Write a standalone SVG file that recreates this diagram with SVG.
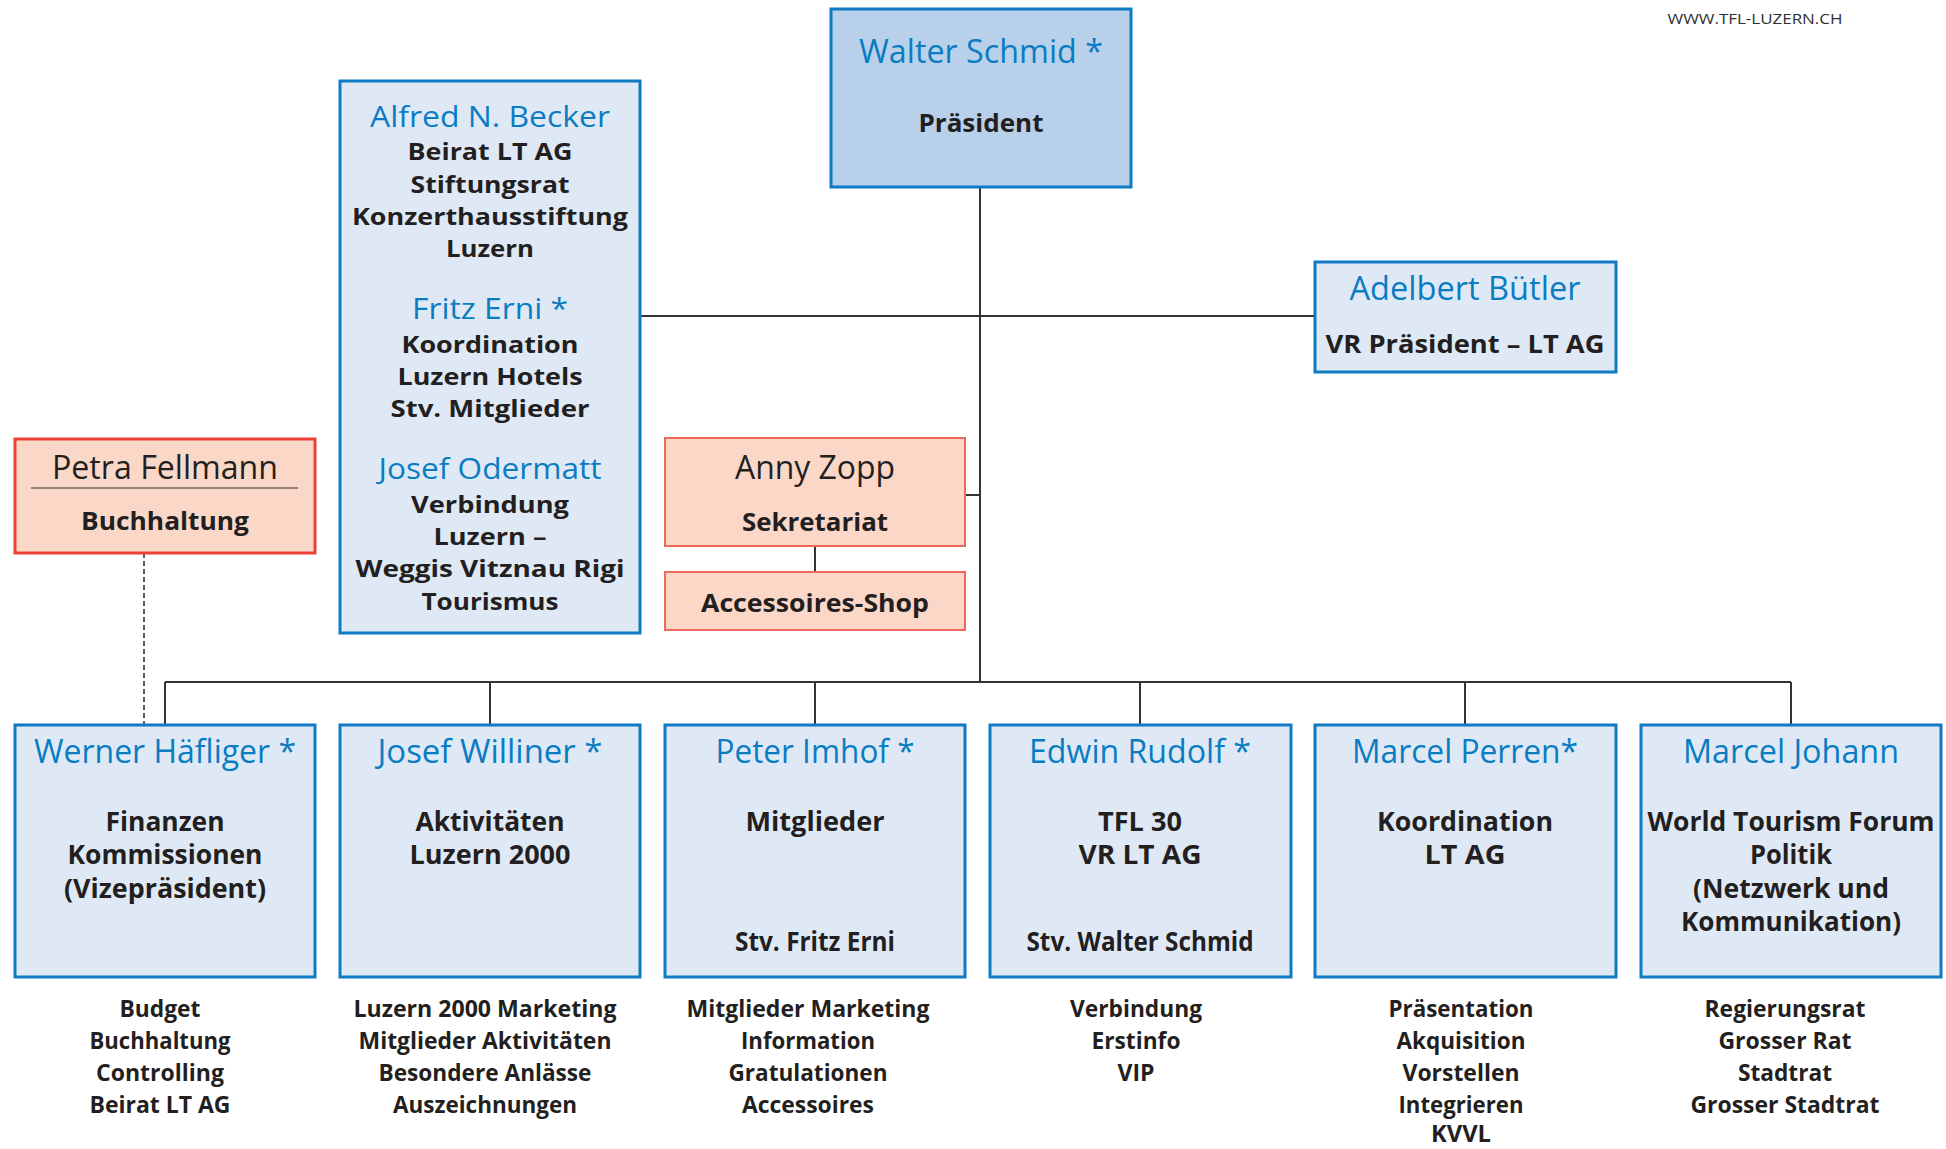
<svg xmlns="http://www.w3.org/2000/svg" width="1946" height="1149" viewBox="0 0 1946 1149">
<style>
.bg{fill:#ffffff}
.bx{fill:#dfe9f6;stroke:#0f7bc4;stroke-width:3}
.bxp{fill:#b9d0ea;stroke:#0f7bc4;stroke-width:3}
.rd{fill:#fbd7c8;stroke:#ee4036;stroke-width:3}
.rd2{fill:#fbd7c8;stroke:#f0675b;stroke-width:2}
.ln{stroke:#333333;stroke-width:2;fill:none}
.dl{stroke:#333333;stroke-width:1.6;stroke-dasharray:5,3;fill:none}
text{text-anchor:middle}
.nm{font-family:"Open Sans","Noto Sans",sans-serif;font-size:32px;font-weight:500;fill:#0a7cc2}
.nms{font-family:"Open Sans","Noto Sans",sans-serif;font-size:30px;font-weight:500;fill:#0a7cc2}
.nmd{font-family:"Open Sans","Noto Sans",sans-serif;font-size:32px;font-weight:500;fill:#231f20}
.b{font-family:"Open Sans","Noto Sans",sans-serif;font-size:25px;font-weight:bold;fill:#231f20}
.bs{font-family:"Open Sans","Noto Sans",sans-serif;font-size:24px;font-weight:bold;fill:#231f20}
.cn{font-family:"Open Sans","Noto Sans",sans-serif;font-size:33px;font-weight:500;fill:#0a7cc2}
.cb{font-family:"Open Sans","Noto Sans",sans-serif;font-size:26px;font-weight:bold;fill:#231f20}
.cl{font-family:"Open Sans","Noto Sans",sans-serif;font-size:23px;font-weight:bold;fill:#231f20}
.url{font-family:"Open Sans","Noto Sans",sans-serif;font-size:14px;font-weight:500;fill:#2e2e2e}
</style>
<rect class="bg" x="0" y="0" width="1946" height="1149"/>
<text class="url" x="1755" y="24" textLength="175" lengthAdjust="spacingAndGlyphs">WWW.TFL-LUZERN.CH</text>

<g id="connectors">
<line class="ln" x1="980" y1="187" x2="980" y2="682"/>
<line class="ln" x1="640" y1="316" x2="1315" y2="316"/>
<line class="ln" x1="965" y1="495" x2="980" y2="495"/>
<line class="ln" x1="815" y1="546" x2="815" y2="572"/>
<line class="ln" x1="165" y1="682" x2="1791" y2="682"/>
<line class="ln" x1="165" y1="682" x2="165" y2="725"/>
<line class="ln" x1="490" y1="682" x2="490" y2="725"/>
<line class="ln" x1="815" y1="682" x2="815" y2="725"/>
<line class="ln" x1="1140" y1="682" x2="1140" y2="725"/>
<line class="ln" x1="1465" y1="682" x2="1465" y2="725"/>
<line class="ln" x1="1791" y1="682" x2="1791" y2="725"/>
<line class="dl" x1="144" y1="553" x2="144" y2="725"/>
</g>

<g id="walter-schmid">
<rect class="bxp" x="831" y="9" width="300" height="178"/>
<text class="nm" x="981" y="63" textLength="244" lengthAdjust="spacingAndGlyphs">Walter Schmid *</text>
<text class="b" x="981" y="132" textLength="125" lengthAdjust="spacingAndGlyphs">Präsident</text>
</g>

<g id="beirat">
<rect class="bx" x="340" y="81" width="300" height="552"/>
<text class="nms" x="490" y="127" textLength="240" lengthAdjust="spacingAndGlyphs">Alfred N. Becker</text>
<text class="bs" x="490" y="160" textLength="165" lengthAdjust="spacingAndGlyphs">Beirat LT AG</text>
<text class="bs" x="490" y="193" textLength="159" lengthAdjust="spacingAndGlyphs">Stiftungsrat</text>
<text class="bs" x="490" y="225" textLength="276" lengthAdjust="spacingAndGlyphs">Konzerthausstiftung</text>
<text class="bs" x="490" y="257" textLength="88" lengthAdjust="spacingAndGlyphs">Luzern</text>
<text class="nms" x="490" y="319" textLength="156" lengthAdjust="spacingAndGlyphs">Fritz Erni *</text>
<text class="bs" x="490" y="353" textLength="177" lengthAdjust="spacingAndGlyphs">Koordination</text>
<text class="bs" x="490" y="385" textLength="185" lengthAdjust="spacingAndGlyphs">Luzern Hotels</text>
<text class="bs" x="490" y="417" textLength="199" lengthAdjust="spacingAndGlyphs">Stv. Mitglieder</text>
<text class="nms" x="490" y="479" textLength="223" lengthAdjust="spacingAndGlyphs">Josef Odermatt</text>
<text class="bs" x="490" y="513" textLength="158" lengthAdjust="spacingAndGlyphs">Verbindung</text>
<text class="bs" x="490" y="545" textLength="113" lengthAdjust="spacingAndGlyphs">Luzern –</text>
<text class="bs" x="490" y="577" textLength="269" lengthAdjust="spacingAndGlyphs">Weggis Vitznau Rigi</text>
<text class="bs" x="490" y="610" textLength="137" lengthAdjust="spacingAndGlyphs">Tourismus</text>
</g>

<g id="adelbert-buetler">
<rect class="bx" x="1315" y="262" width="301" height="110"/>
<text class="nm" x="1465" y="300" textLength="231" lengthAdjust="spacingAndGlyphs">Adelbert Bütler</text>
<text class="b" x="1465" y="353" textLength="279" lengthAdjust="spacingAndGlyphs">VR Präsident – LT AG</text>
</g>

<g id="petra-fellmann">
<rect class="rd" x="15" y="439" width="300" height="114"/>
<text class="nmd" x="165" y="479" textLength="226" lengthAdjust="spacingAndGlyphs">Petra Fellmann</text>
<line x1="31" y1="488" x2="298" y2="488" stroke="#333333" stroke-width="1.2"/>
<text class="b" x="165" y="530" textLength="168" lengthAdjust="spacingAndGlyphs">Buchhaltung</text>
</g>

<g id="anny-zopp">
<rect class="rd2" x="665" y="438" width="300" height="108"/>
<text class="nmd" x="815" y="479" textLength="160" lengthAdjust="spacingAndGlyphs">Anny Zopp</text>
<text class="b" x="815" y="531" textLength="146" lengthAdjust="spacingAndGlyphs">Sekretariat</text>
</g>

<g id="accessoires-shop">
<rect class="rd2" x="665" y="572" width="300" height="58"/>
<text class="b" x="815" y="612" textLength="228" lengthAdjust="spacingAndGlyphs">Accessoires-Shop</text>
</g>

<g id="werner-haefliger">
<rect class="bx" x="15" y="725" width="300" height="252"/>
<text class="cn" x="165" y="763" textLength="262" lengthAdjust="spacingAndGlyphs">Werner Häfliger *</text>
<text class="cb" x="165" y="831" textLength="119" lengthAdjust="spacingAndGlyphs">Finanzen</text>
<text class="cb" x="165" y="864" textLength="195" lengthAdjust="spacingAndGlyphs">Kommissionen</text>
<text class="cb" x="165" y="898" textLength="202" lengthAdjust="spacingAndGlyphs">(Vizepräsident)</text>
</g>

<g id="josef-williner">
<rect class="bx" x="340" y="725" width="300" height="252"/>
<text class="cn" x="490" y="763" textLength="225" lengthAdjust="spacingAndGlyphs">Josef Williner *</text>
<text class="cb" x="490" y="831" textLength="149" lengthAdjust="spacingAndGlyphs">Aktivitäten</text>
<text class="cb" x="490" y="864" textLength="161" lengthAdjust="spacingAndGlyphs">Luzern 2000</text>
</g>

<g id="peter-imhof">
<rect class="bx" x="665" y="725" width="300" height="252"/>
<text class="cn" x="815" y="763" textLength="199" lengthAdjust="spacingAndGlyphs">Peter Imhof *</text>
<text class="cb" x="815" y="831" textLength="139" lengthAdjust="spacingAndGlyphs">Mitglieder</text>
<text class="cb" x="815" y="951" textLength="160" lengthAdjust="spacingAndGlyphs">Stv. Fritz Erni</text>
</g>

<g id="edwin-rudolf">
<rect class="bx" x="990" y="725" width="301" height="252"/>
<text class="cn" x="1140" y="763" textLength="222" lengthAdjust="spacingAndGlyphs">Edwin Rudolf *</text>
<text class="cb" x="1140" y="831" textLength="84" lengthAdjust="spacingAndGlyphs">TFL 30</text>
<text class="cb" x="1140" y="864" textLength="123" lengthAdjust="spacingAndGlyphs">VR LT AG</text>
<text class="cb" x="1140" y="951" textLength="227" lengthAdjust="spacingAndGlyphs">Stv. Walter Schmid</text>
</g>

<g id="marcel-perren">
<rect class="bx" x="1315" y="725" width="301" height="252"/>
<text class="cn" x="1465" y="763" textLength="226" lengthAdjust="spacingAndGlyphs">Marcel Perren*</text>
<text class="cb" x="1465" y="831" textLength="176" lengthAdjust="spacingAndGlyphs">Koordination</text>
<text class="cb" x="1465" y="864" textLength="81" lengthAdjust="spacingAndGlyphs">LT AG</text>
</g>

<g id="marcel-johann">
<rect class="bx" x="1641" y="725" width="300" height="252"/>
<text class="cn" x="1791" y="763" textLength="216" lengthAdjust="spacingAndGlyphs">Marcel Johann</text>
<text class="cb" x="1791" y="831" textLength="287" lengthAdjust="spacingAndGlyphs">World Tourism Forum</text>
<text class="cb" x="1791" y="864" textLength="82" lengthAdjust="spacingAndGlyphs">Politik</text>
<text class="cb" x="1791" y="898" textLength="196" lengthAdjust="spacingAndGlyphs">(Netzwerk und</text>
<text class="cb" x="1791" y="931" textLength="220" lengthAdjust="spacingAndGlyphs">Kommunikation)</text>
</g>

<g id="list-werner">
<text class="cl" x="160" y="1017" textLength="81" lengthAdjust="spacingAndGlyphs">Budget</text>
<text class="cl" x="160" y="1049" textLength="141" lengthAdjust="spacingAndGlyphs">Buchhaltung</text>
<text class="cl" x="160" y="1081" textLength="128" lengthAdjust="spacingAndGlyphs">Controlling</text>
<text class="cl" x="160" y="1113" textLength="141" lengthAdjust="spacingAndGlyphs">Beirat LT AG</text>
</g>
<g id="list-josef">
<text class="cl" x="485" y="1017" textLength="263" lengthAdjust="spacingAndGlyphs">Luzern 2000 Marketing</text>
<text class="cl" x="485" y="1049" textLength="253" lengthAdjust="spacingAndGlyphs">Mitglieder Aktivitäten</text>
<text class="cl" x="485" y="1081" textLength="213" lengthAdjust="spacingAndGlyphs">Besondere Anlässe</text>
<text class="cl" x="485" y="1113" textLength="184" lengthAdjust="spacingAndGlyphs">Auszeichnungen</text>
</g>
<g id="list-peter">
<text class="cl" x="808" y="1017" textLength="243" lengthAdjust="spacingAndGlyphs">Mitglieder Marketing</text>
<text class="cl" x="808" y="1049" textLength="134" lengthAdjust="spacingAndGlyphs">Information</text>
<text class="cl" x="808" y="1081" textLength="159" lengthAdjust="spacingAndGlyphs">Gratulationen</text>
<text class="cl" x="808" y="1113" textLength="132" lengthAdjust="spacingAndGlyphs">Accessoires</text>
</g>
<g id="list-edwin">
<text class="cl" x="1136" y="1017" textLength="132" lengthAdjust="spacingAndGlyphs">Verbindung</text>
<text class="cl" x="1136" y="1049" textLength="89" lengthAdjust="spacingAndGlyphs">Erstinfo</text>
<text class="cl" x="1136" y="1081" textLength="37" lengthAdjust="spacingAndGlyphs">VIP</text>
</g>
<g id="list-perren">
<text class="cl" x="1461" y="1017" textLength="145" lengthAdjust="spacingAndGlyphs">Präsentation</text>
<text class="cl" x="1461" y="1049" textLength="129" lengthAdjust="spacingAndGlyphs">Akquisition</text>
<text class="cl" x="1461" y="1081" textLength="117" lengthAdjust="spacingAndGlyphs">Vorstellen</text>
<text class="cl" x="1461" y="1113" textLength="125" lengthAdjust="spacingAndGlyphs">Integrieren</text>
<text class="cl" x="1461" y="1142" textLength="60" lengthAdjust="spacingAndGlyphs">KVVL</text>
</g>
<g id="list-johann">
<text class="cl" x="1785" y="1017" textLength="161" lengthAdjust="spacingAndGlyphs">Regierungsrat</text>
<text class="cl" x="1785" y="1049" textLength="133" lengthAdjust="spacingAndGlyphs">Grosser Rat</text>
<text class="cl" x="1785" y="1081" textLength="94" lengthAdjust="spacingAndGlyphs">Stadtrat</text>
<text class="cl" x="1785" y="1113" textLength="189" lengthAdjust="spacingAndGlyphs">Grosser Stadtrat</text>
</g>
</svg>
